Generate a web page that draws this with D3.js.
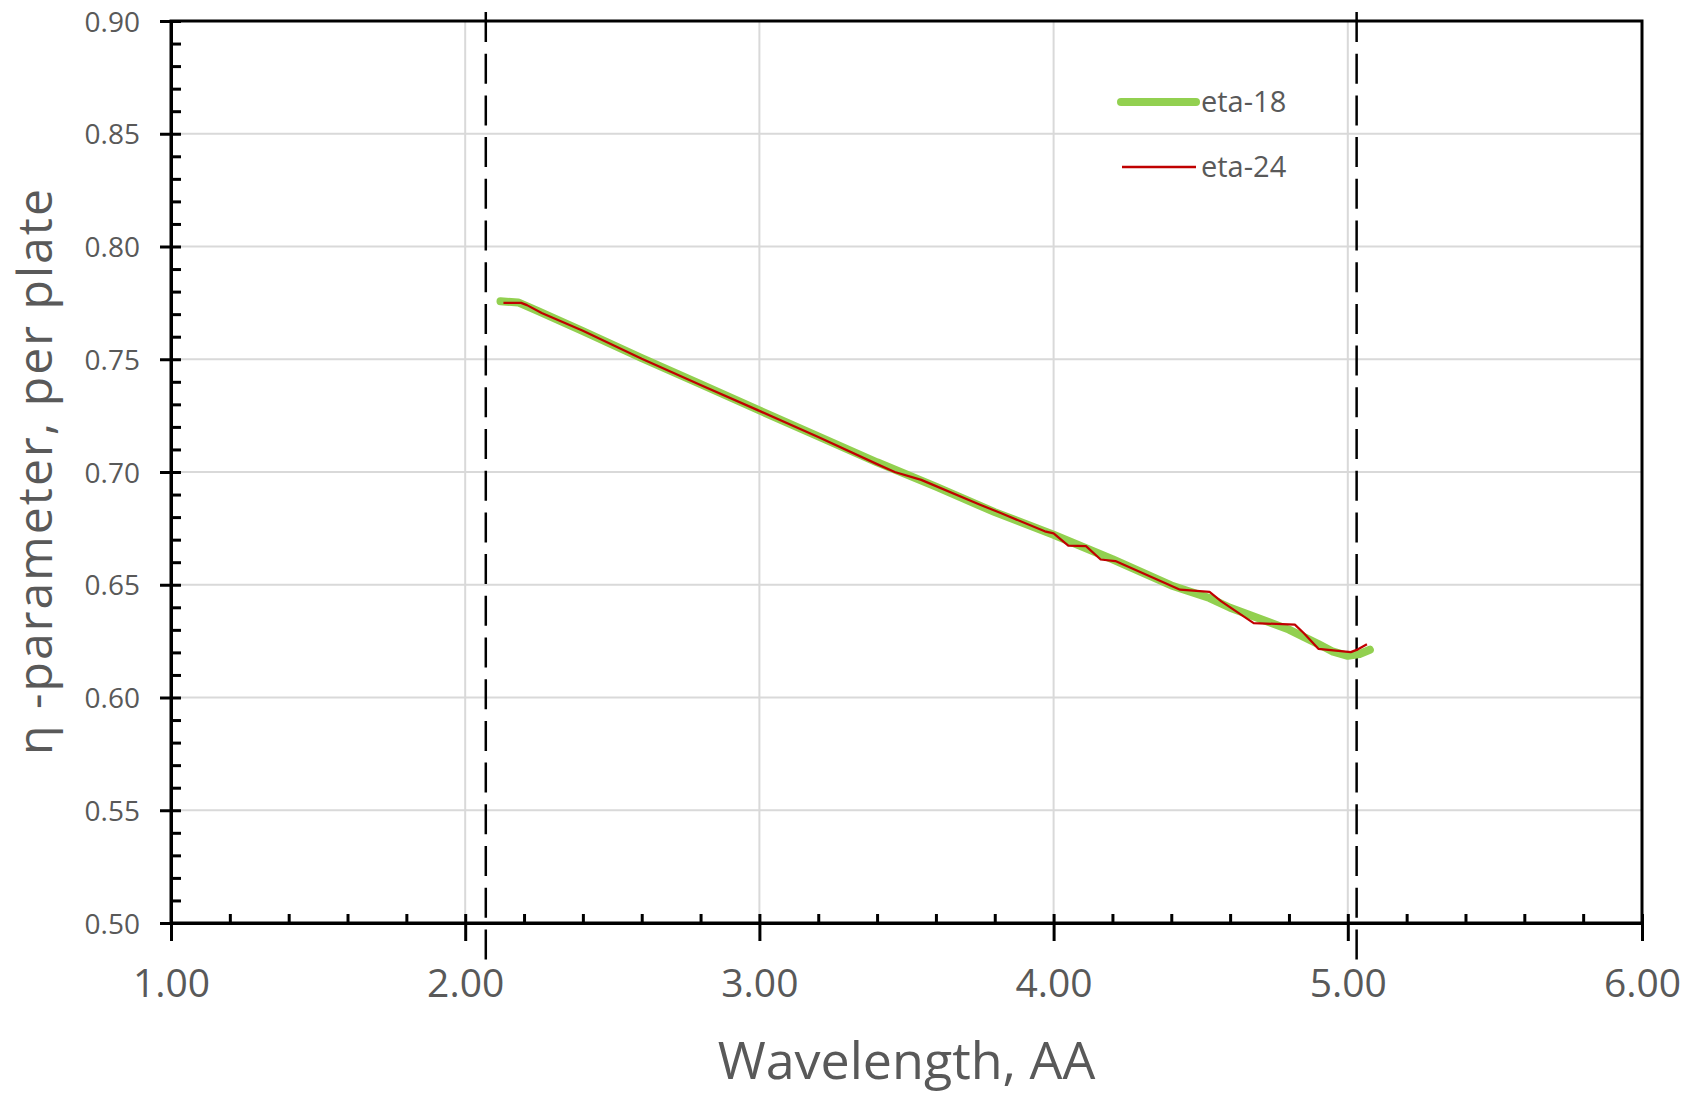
<!DOCTYPE html>
<html>
<head>
<meta charset="utf-8">
<script src="https://cdn.jsdelivr.net/npm/d3@7"></script>
<style>
  body { margin: 0; background: #fff; }
  text { font-family: "Open Sans", sans-serif; fill: #595959; }
</style>
</head>
<body>
<div id="chart"></div>
<script>
// Data
var xTicks = [1.00, 2.00, 3.00, 4.00, 5.00, 6.00];
var yTicks = [0.50, 0.55, 0.60, 0.65, 0.70, 0.75, 0.80, 0.85, 0.90];
var markerLines = [2.07, 5.03];

var wavelength18 = [2.12, 2.18, 2.25, 2.40, 2.60, 2.80, 3.00, 3.20, 3.40, 3.60, 3.80, 4.00, 4.20, 4.40, 4.53, 4.60, 4.80, 4.90, 4.95, 5.00, 5.04, 5.075];
var eta18 = [0.7757, 0.7752, 0.7712, 0.7625, 0.7505, 0.7390, 0.7273, 0.7158, 0.7043, 0.6935, 0.6822, 0.6722, 0.6613, 0.6497, 0.6441, 0.6398, 0.6301, 0.6237, 0.6203, 0.6185, 0.6193, 0.6212];

var wavelength24 = [2.13, 2.19, 2.21, 2.26, 2.40, 2.60, 2.80, 3.00, 3.20, 3.40, 3.46, 3.55, 3.75, 3.82, 3.97, 4.00, 4.05, 4.11, 4.16, 4.21, 4.43, 4.53, 4.57, 4.68, 4.82, 4.85, 4.90, 5.01, 5.03, 5.065];
var eta24 = [0.7750, 0.7750, 0.7740, 0.7705, 0.7626, 0.7502, 0.7386, 0.7271, 0.7155, 0.7035, 0.7000, 0.6965, 0.6855, 0.6818, 0.6737, 0.6728, 0.6674, 0.6671, 0.6612, 0.6605, 0.6478, 0.6468, 0.6426, 0.6330, 0.6323, 0.6286, 0.6216, 0.6201, 0.6211, 0.6236];

var seriesNames = ["eta-18", "eta-24"];
var seriesColors = ["#92D050", "#C00000"];

var svgWidth = 1690;
var svgHeight = 1095;

var margin = { top: 21, bottom: 172, right: 48, left: 171 };
var width = svgWidth - margin.left - margin.right;
var height = svgHeight - margin.top - margin.bottom;

var svg = d3.select("#chart")
    .append("svg")
    .attr("width", svgWidth)
    .attr("height", svgHeight);

svg.append("rect")
    .attr("width", svgWidth)
    .attr("height", svgHeight)
    .attr("fill", "#fff");

var chartGroup = svg.append("g")
    .attr("transform", `translate(${margin.left}, ${margin.top})`);

// scales
var xScale = d3.scaleLinear().domain([1, 6]).range([0, width]);
var yScale = d3.scaleLinear().domain([0.5, 0.9]).range([height, 0]);

// minor tick positions (unlabelled)
var xMinor = d3.range(1, 6.001, 0.2).filter(v => Math.abs(v - Math.round(v)) > 0.01);
var yMinor = d3.range(0.5, 0.9001, 0.01).filter(v => Math.abs(v * 20 - Math.round(v * 20)) > 0.01);

// gridlines
chartGroup.append("g").selectAll("line")
    .data(yTicks)
    .enter()
    .append("line")
    .attr("x1", 0)
    .attr("x2", width)
    .attr("y1", d => yScale(d))
    .attr("y2", d => yScale(d))
    .attr("stroke", "#d9d9d9")
    .attr("stroke-width", 2);

chartGroup.append("g").selectAll("line")
    .data(xTicks)
    .enter()
    .append("line")
    .attr("x1", d => xScale(d))
    .attr("x2", d => xScale(d))
    .attr("y1", 0)
    .attr("y2", height)
    .attr("stroke", "#d9d9d9")
    .attr("stroke-width", 2);

// plot frame
chartGroup.append("rect")
    .attr("width", width)
    .attr("height", height)
    .attr("fill", "none")
    .attr("stroke", "#000")
    .attr("stroke-width", 3);

// axes
var bottomMinor = chartGroup.append("g")
    .attr("transform", `translate(0, ${height})`)
    .call(d3.axisBottom(xScale).tickValues(xMinor).tickSize(-9).tickSizeOuter(0).tickFormat(""));

var bottomMajor = chartGroup.append("g")
    .attr("transform", `translate(0, ${height})`)
    .call(d3.axisBottom(xScale).tickValues(xTicks).tickSize(18).tickSizeOuter(0).tickFormat(d3.format(".2f")));
bottomMajor.selectAll(".tick line").attr("y1", -9);
bottomMajor.selectAll(".tick text")
    .attr("y", 46)
    .attr("dy", "0.71em")
    .style("font-size", "39px")
    .style("font-family", "Open Sans, sans-serif")
    .attr("fill", "#595959");

var leftMinor = chartGroup.append("g")
    .call(d3.axisLeft(yScale).tickValues(yMinor).tickSize(-10).tickSizeOuter(0).tickFormat(""));

var leftMajor = chartGroup.append("g")
    .call(d3.axisLeft(yScale).tickValues(yTicks).tickSize(11).tickSizeOuter(0).tickFormat(d3.format(".2f")));
leftMajor.selectAll(".tick line").attr("x1", 10);
leftMajor.selectAll(".tick text")
    .attr("x", -31)
    .attr("dy", "0.36em")
    .style("font-size", "28px")
    .style("font-family", "Open Sans, sans-serif")
    .attr("fill", "#595959");

[bottomMinor, bottomMajor, leftMinor, leftMajor].forEach(function(g) {
    g.select(".domain").attr("stroke", "#000").attr("stroke-width", 3);
    g.selectAll(".tick line").attr("stroke", "#000").attr("stroke-width", 3);
});

// vertical dashed markers
chartGroup.append("g").selectAll("line")
    .data(markerLines)
    .enter()
    .append("line")
    .attr("x1", d => xScale(d))
    .attr("x2", d => xScale(d))
    .attr("y1", -9)
    .attr("y2", height + 38)
    .attr("stroke", "#000")
    .attr("stroke-width", 2.5)
    .attr("stroke-dasharray", "30,11.7");

// series lines
var line = d3.line()
    .x(d => xScale(d[0]))
    .y(d => yScale(d[1]));

chartGroup.append("path")
    .datum(d3.zip(wavelength18, eta18))
    .attr("d", line)
    .attr("fill", "none")
    .attr("stroke", seriesColors[0])
    .attr("stroke-width", 8)
    .attr("stroke-linejoin", "round")
    .attr("stroke-linecap", "round");

chartGroup.append("path")
    .datum(d3.zip(wavelength24, eta24))
    .attr("d", line)
    .attr("fill", "none")
    .attr("stroke", seriesColors[1])
    .attr("stroke-width", 2.25)
    .attr("stroke-linejoin", "round");

// legend
var legend = svg.append("g");
var legendRows = [
    { y: 102, x1: 1121, x2: 1196, w: 8, cap: "round" },
    { y: 167, x1: 1122, x2: 1196, w: 2.5, cap: "butt" }
];
legendRows.forEach(function(r, i) {
    legend.append("line")
        .attr("x1", r.x1).attr("x2", r.x2)
        .attr("y1", r.y).attr("y2", r.y)
        .attr("stroke", seriesColors[i])
        .attr("stroke-width", r.w)
        .attr("stroke-linecap", r.cap);
    legend.append("text")
        .attr("x", 1201)
        .attr("y", r.y)
        .attr("dy", "0.36em")
        .style("font-size", "29px")
        .text(seriesNames[i]);
});

// axis titles
svg.append("text")
    .attr("x", margin.left + width / 2)
    .attr("y", 1079)
    .attr("text-anchor", "middle")
    .style("font-size", "52px")
    .text("Wavelength, AA");

svg.append("text")
    .attr("transform", `translate(52, ${margin.top + height / 2}) rotate(-90)`)
    .attr("text-anchor", "middle")
    .attr("textLength", 566)
    .attr("lengthAdjust", "spacing")
    .style("font-size", "48px")
    .text("η -parameter, per plate");
</script>
</body>
</html>
